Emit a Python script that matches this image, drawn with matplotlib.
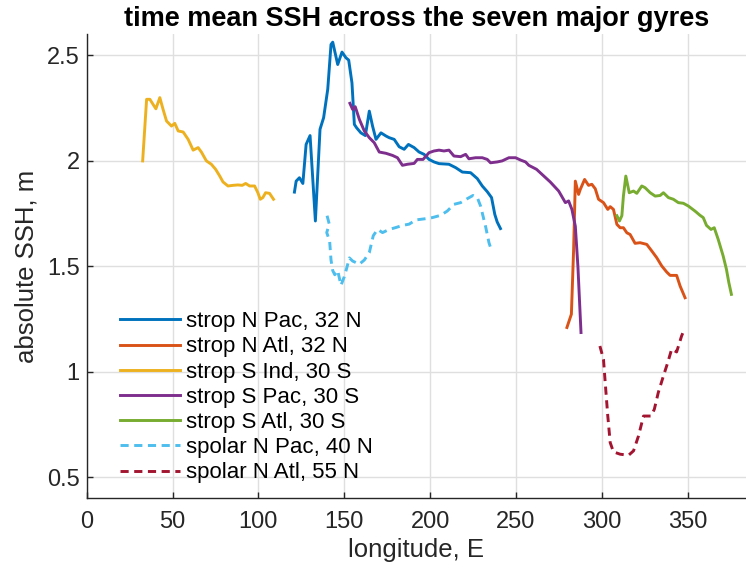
import matplotlib
matplotlib.use("Agg")
import matplotlib.pyplot as plt

plt.rcParams['font.family'] = ['Liberation Sans', 'DejaVu Sans']

# ---- data ----
npac_lon = [121.0, 122.0, 123.9, 125.9, 127.8, 130.1, 133.2, 135.9, 138.0, 140.4, 142.3, 143.3,
            146.2, 148.7, 151.0, 152.6, 154.5, 155.9, 157.2, 159.7, 162.3, 164.6, 166.5, 168.5,
            171.4, 174.3, 176.2, 179.1, 182.0, 184.9, 187.4, 190.7, 193.6, 196.5, 199.4, 202.3,
            205.2, 211.0, 214.9, 218.8, 223.6, 227.5, 230.4, 233.3, 235.8, 237.7, 239.1, 241.0]
npac_ssh = [1.852, 1.904, 1.92, 1.893, 2.078, 2.12, 1.715, 2.15, 2.205, 2.34, 2.552, 2.563,
            2.457, 2.516, 2.489, 2.478, 2.37, 2.173, 2.157, 2.133, 2.12, 2.236, 2.165, 2.102,
            2.133, 2.118, 2.11, 2.102, 2.067, 2.055, 2.078, 2.063, 2.042, 2.031, 2.007, 1.995,
            1.987, 1.984, 1.968, 1.947, 1.944, 1.916, 1.881, 1.854, 1.826, 1.746, 1.71, 1.679]

natl_lon = [279.7, 282.3, 283.6, 284.6, 286.5, 287.5, 290.0, 292.3, 294.2, 296.2, 298.1, 301.0,
            303.5, 304.9, 306.8, 308.8, 310.7, 312.6, 314.6, 316.5, 319.4, 322.3, 326.2, 329.1,
            332.0, 334.9, 337.8, 339.8, 343.6, 345.6, 348.5]
natl_ssh = [1.21, 1.273, 1.58, 1.904, 1.841, 1.865, 1.912, 1.884, 1.889, 1.868, 1.818, 1.802,
            1.77, 1.783, 1.77, 1.699, 1.683, 1.683, 1.659, 1.651, 1.609, 1.612, 1.604, 1.573,
            1.541, 1.502, 1.473, 1.457, 1.457, 1.407, 1.351]

sind_lon = [32.6, 34.9, 36.8, 40.3, 42.6, 44.5, 46.5, 49.4, 51.3, 53.3, 56.2, 59.1, 62.0, 64.9,
            66.8, 69.7, 72.6, 75.1, 77.5, 79.4, 82.3, 85.2, 88.1, 90.6, 92.6, 94.9, 97.8, 99.7,
            101.1, 102.6, 104.2, 106.5, 108.8]
sind_ssh = [2.0, 2.292, 2.292, 2.247, 2.3, 2.244, 2.189, 2.165, 2.178, 2.142, 2.137, 2.102, 2.051,
            2.063, 2.042, 2.0, 1.984, 1.96, 1.928, 1.9, 1.881, 1.884, 1.886, 1.884, 1.893, 1.881,
            1.881, 1.849, 1.818, 1.826, 1.849, 1.846, 1.818]

spac_lon = [153.3, 154.9, 156.4, 158.8, 161.7, 164.6, 167.5, 170.4, 174.3, 178.1, 181.0, 183.9,
            186.8, 190.7, 192.6, 195.9, 199.4, 202.3, 205.2, 208.1, 211.0, 213.9, 217.8, 220.7,
            222.6, 226.5, 230.4, 233.3, 235.2, 239.1, 242.0, 245.9, 249.8, 252.7, 255.6, 257.5,
            262.0, 266.0, 270.0, 274.9, 278.8, 280.7, 282.6, 284.6, 286.1, 287.9]
spac_ssh = [2.273, 2.244, 2.257, 2.197, 2.142, 2.11, 2.086, 2.042, 2.036, 2.026, 2.015, 1.979,
            1.984, 1.988, 2.007, 2.007, 2.039, 2.047, 2.051, 2.047, 2.051, 2.023, 2.02, 2.031,
            2.01, 2.015, 2.015, 2.007, 1.991, 1.995, 2.0, 2.015, 2.015, 2.004, 1.995, 1.979,
            1.96, 1.93, 1.90, 1.857, 1.802, 1.81, 1.77, 1.69, 1.5, 1.186]

satl_lon = [308.8, 310.3, 311.7, 312.6, 314.0, 316.0, 318.5, 320.4, 323.3, 325.2, 328.2, 331.1,
            334.0, 335.9, 338.8, 341.7, 344.6, 347.5, 350.4, 354.3, 357.2, 359.1, 361.0, 363.6,
            365.5, 367.8, 370.7, 372.6, 374.0, 375.5]
satl_ssh = [1.74, 1.715, 1.74, 1.833, 1.928, 1.849, 1.857, 1.846, 1.881, 1.873, 1.849, 1.833,
            1.836, 1.849, 1.826, 1.818, 1.802, 1.799, 1.786, 1.762, 1.742, 1.731, 1.694, 1.675,
            1.683, 1.628, 1.549, 1.486, 1.423, 1.367]

ppac_lon = [140.0, 141.3, 139.8, 141.5, 142.3, 143.3, 144.5, 146.2, 148.1, 150.0, 151.4, 153.0,
            154.9, 158.8, 161.7, 164.6, 166.9, 169.4, 172.3, 176.2, 180.1, 183.9, 187.8, 191.7,
            197.5, 201.3, 206.2, 210.0, 213.9, 217.8, 221.7, 225.0, 227.5, 229.4, 232.3, 234.3,
            235.6]
ppac_ssh = [1.74, 1.70, 1.66, 1.62, 1.53, 1.48, 1.46, 1.48, 1.41, 1.45, 1.49, 1.54,
            1.525, 1.51, 1.53, 1.565, 1.645, 1.675, 1.66, 1.675, 1.684, 1.694, 1.70, 1.72,
            1.726, 1.731, 1.742, 1.762, 1.794, 1.802, 1.821, 1.836, 1.826, 1.786, 1.69, 1.612,
            1.58]

patl_lon = [298.9, 301.0, 302.0, 303.5, 304.9, 306.8, 310.7, 315.6, 318.5, 321.4, 324.3, 328.7,
            330.6, 332.9, 335.9, 338.4, 340.7, 343.6, 346.5, 348.1]
patl_ssh = [1.122, 1.059, 0.949, 0.79, 0.664, 0.62, 0.609, 0.604, 0.625, 0.696, 0.79, 0.79,
            0.822, 0.901, 0.98, 1.043, 1.107, 1.094, 1.17, 1.201]

labels = ['strop N Pac, 32 N', 'strop N Atl, 32 N', 'strop S Ind, 30 S', 'strop S Pac, 30 S',
          'strop S Atl, 30 S', 'spolar N Pac, 40 N', 'spolar N Atl, 55 N']
colors = ['#0072BD', '#D95319', '#EDB120', '#7E2F8E', '#77AC30', '#4DBEEE', '#A2142F']

xticks = [0, 50, 100, 150, 200, 250, 300, 350]
yticks = [0.5, 1, 1.5, 2, 2.5]

# ---- figure ----
fig = plt.figure(figsize=(7.46, 5.69), dpi=100)
ax = fig.add_axes([0.1162, 0.1243, 0.8838, 0.8153])

series = [(npac_lon, npac_ssh), (natl_lon, natl_ssh), (sind_lon, sind_ssh), (spac_lon, spac_ssh),
          (satl_lon, satl_ssh), (ppac_lon, ppac_ssh), (patl_lon, patl_ssh)]
for i, ((x, y), lab, c) in enumerate(zip(series, labels, colors)):
    ls = '-' if i < 5 else (0, (2.8, 1.9))
    ax.plot(x, y, color=c, lw=2.1, ls=ls, label=lab)

ax.set_xlim(0, 384)
ax.set_ylim(0.4, 2.6)
ax.set_xticks(xticks)
ax.set_xticklabels([str(t) for t in xticks])
ax.set_yticks(yticks)
ax.set_yticklabels(['0.5', '1', '1.5', '2', '2.5'])
ax.grid(True, color='#dfdfdf', lw=1.0)
ax.set_axisbelow(True)
for s in ['top', 'right']:
    ax.spines[s].set_visible(False)
for s in ['left', 'bottom']:
    ax.spines[s].set_color('#262626')
    ax.spines[s].set_linewidth(1.0)
ax.tick_params(direction='in', length=4, width=1, colors='#262626', labelsize=17)
ax.tick_params(axis='x', pad=9)
ax.tick_params(axis='y', pad=5)
for lbl in ax.get_xticklabels() + ax.get_yticklabels():
    lbl.set_color('#262626')

ax.set_xlabel('longitude, E', fontsize=18.5, color='#262626', labelpad=4)
ax.set_ylabel('absolute SSH, m', fontsize=18.5, color='#262626', labelpad=6)
ax.set_title('time mean SSH across the seven major gyres', fontsize=19.5, fontweight='bold',
             pad=6)

leg = ax.legend(loc='lower left', bbox_to_anchor=(0.0505, 0.032), frameon=False,
                fontsize=16, handlelength=2.7, labelspacing=0.19, handletextpad=0.27,
                borderaxespad=0, borderpad=0)

fig.savefig('out.png', dpi=100)
